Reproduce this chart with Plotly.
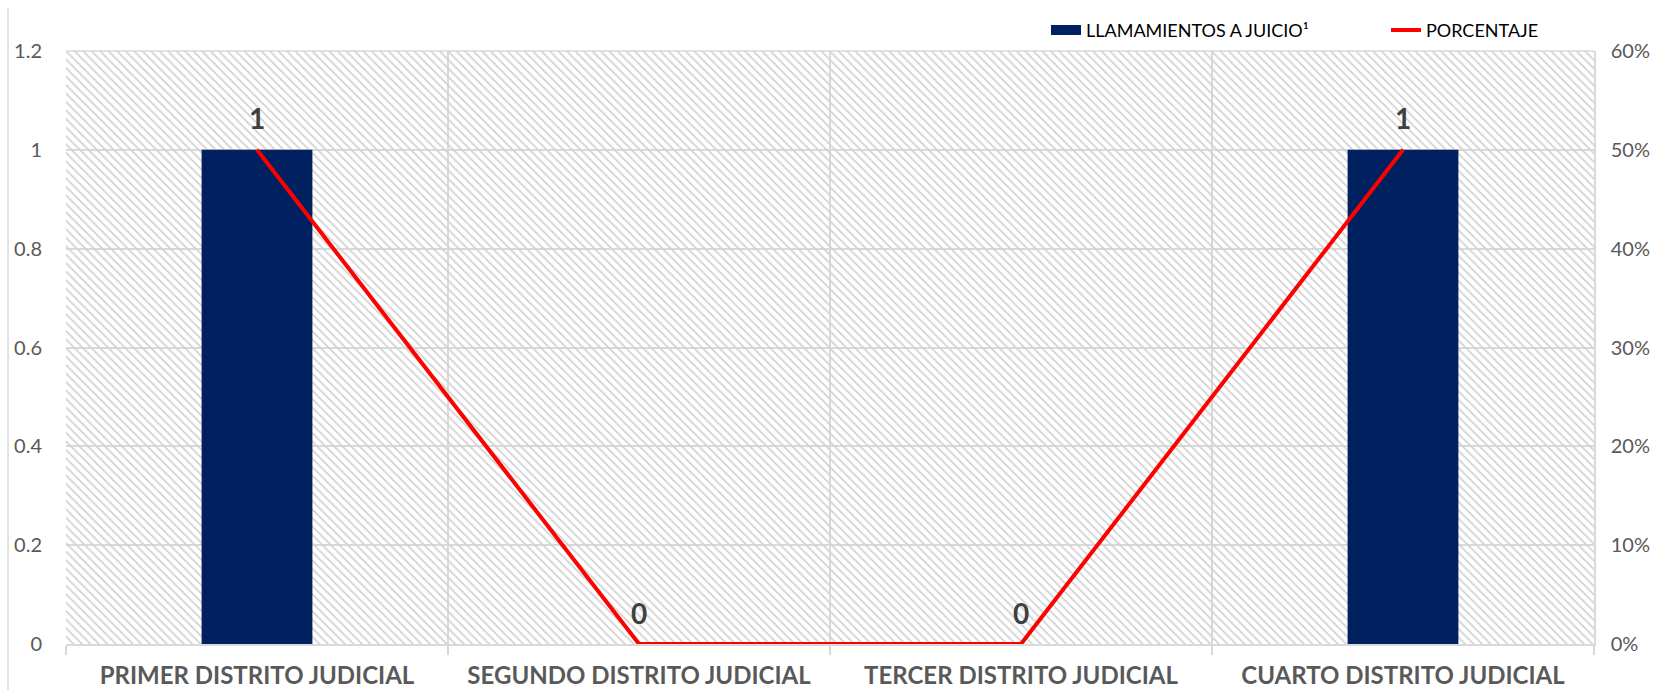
import plotly.graph_objects as go

categories = ["PRIMER DISTRITO JUDICIAL", "SEGUNDO DISTRITO JUDICIAL",
              "TERCER DISTRITO JUDICIAL", "CUARTO DISTRITO JUDICIAL"]
llamamientos = [1, 0, 0, 1]
porcentaje = [0.5, 0.0, 0.0, 0.5]
y_left_max = 1.2
y_right_max = 0.6

W, H = 1662, 691
ml, mr, mt, mb = 66, 68, 44, 47
pw, ph = W - ml - mr, H - mt - mb
BAR_COLOR = "#002060"
LINE_COLOR = "#ff0000"

fig = go.Figure()

# hatched background panel
fig.add_trace(go.Bar(
    x=[categories[0]], y=[y_left_max], width=[len(categories)], offset=-0.5,
    marker=dict(color="rgba(0,0,0,0)", line=dict(width=0),
                pattern=dict(shape="\\", fgcolor="#d2d2d2", bgcolor="rgba(0,0,0,0)",
                             fillmode="replace", size=6, solidity=0.3)),
    showlegend=False, hoverinfo="skip"))

fig.add_trace(go.Bar(
    x=categories, y=llamamientos, width=0.29, name="LLAMAMIENTOS A JUICIO¹",
    marker=dict(color=BAR_COLOR, line=dict(width=0)), showlegend=False))

# legend proxy for the bar series (wide rectangle swatch)
fig.add_trace(go.Scatter(
    x=[None], y=[None], mode="lines", name="LLAMAMIENTOS A JUICIO¹",
    line=dict(color=BAR_COLOR, width=10), legend="legend", hoverinfo="skip"))

fig.add_trace(go.Scatter(
    x=categories, y=porcentaje, yaxis="y2", mode="lines+markers+text", name="PORCENTAJE",
    line=dict(color=LINE_COLOR, width=4),
    marker=dict(size=20, color="rgba(0,0,0,0)"),
    text=[str(v) for v in llamamientos], textposition="top center",
    textfont=dict(family="Lato", size=28, color="#404040", weight="bold"),
    legend="legend2"))

grid = "#d9d9d9"
leg_common = dict(orientation="h", xanchor="left", y=1 + 21 / ph, yanchor="middle",
                  font=dict(size=18, color="#000000"), bgcolor="rgba(0,0,0,0)")
fig.update_layout(
    width=W, height=H, margin=dict(l=ml, r=mr, t=mt, b=mb),
    paper_bgcolor="white", plot_bgcolor="white", barmode="overlay",
    font=dict(family="Lato", color="#595959"),
    xaxis=dict(type="category", range=[-0.5, 3.5], tickson="boundaries",
               showgrid=True, gridcolor=grid, gridwidth=1.5,
               showline=True, linecolor=grid, linewidth=2,
               ticks="outside", ticklen=9, tickcolor=grid, tickwidth=1.5,
               tickfont=dict(size=24, color="#595959", weight="bold"),
               ticklabelstandoff=9, automargin=False),
    yaxis=dict(range=[0, y_left_max], dtick=0.2, showgrid=True, gridcolor=grid,
               gridwidth=1.5, zeroline=False, showline=False,
               tickfont=dict(size=20, color="#595959"), ticklabelstandoff=23,
               automargin=False),
    yaxis2=dict(range=[0, y_right_max], dtick=0.1, tickformat=".0%",
                overlaying="y", side="right", showgrid=False, zeroline=False,
                showline=True, linecolor=grid, linewidth=1.5,
                tickfont=dict(size=20, color="#595959"), ticklabelstandoff=11,
                automargin=False),
    legend=dict(x=(1046 - ml) / pw, **leg_common),
    legend2=dict(x=(1386 - ml) / pw, **leg_common),
    shapes=[
        dict(type="line", xref="paper", yref="paper",
             x0=-(ml - 8) / pw, x1=-(ml - 8) / pw, y0=-mb / ph, y1=1 + mt / ph,
             line=dict(color="#d9d9d9", width=1.5)),
        dict(type="line", xref="paper", yref="paper",
             x0=0, x1=1, y0=1, y1=1, line=dict(color=grid, width=1.5)),
    ],
)

fig.write_html("out.html", config={"displayModeBar": False},
               post_script="document.body.style.margin='0';document.body.style.overflow='hidden';")
